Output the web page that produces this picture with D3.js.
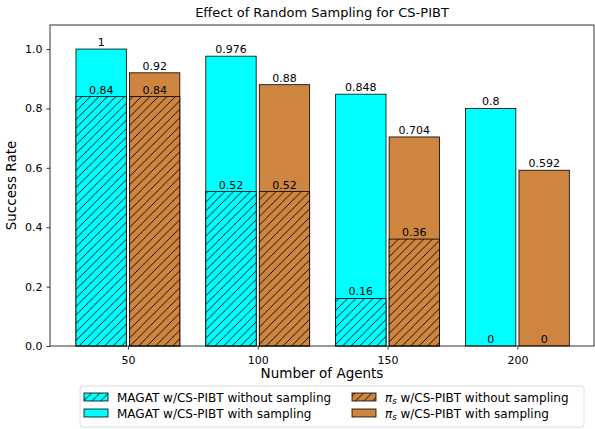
<!DOCTYPE html>
<html>
<head>
<meta charset="utf-8">
<script src="https://cdn.jsdelivr.net/npm/d3@7"></script>
<style>
  body { margin: 0; background: #fff; }
  text { font-family: "DejaVu Sans", sans-serif; fill: #000; }
</style>
</head>
<body>
<svg id="chart" width="595" height="429"></svg>
<script>
// data
const agents = [50, 100, 150, 200];
const magatWith = [1, 0.976, 0.848, 0.8];
const magatWithout = [0.84, 0.52, 0.16, 0];
const piWith = [0.92, 0.88, 0.704, 0.592];
const piWithout = [0.84, 0.52, 0.36, 0];
const yTicks = [0, 0.2, 0.4, 0.6, 0.8, 1.0];

const svg = d3.select("#chart");
const margin = {left: 50, right: 1, top: 25, bottom: 83};
const width = 595, height = 429;

const x = d3.scaleLinear().domain([20, 229.5]).range([margin.left, width - margin.right]);
const y = d3.scaleLinear().domain([0, 1.081]).range([height - margin.bottom, margin.top]);

const cyan = "#00ffff";
const peru = "#cd853f";

// hatch patterns
const defs = svg.append("defs");
function hatch(id, color) {
    const p = defs.append("pattern")
        .attr("id", id)
        .attr("patternUnits", "userSpaceOnUse")
        .attr("width", 8.5).attr("height", 8.5);
    p.append("rect").attr("width", 8.5).attr("height", 8.5).attr("fill", color);
    p.append("path")
        .attr("d", "M-2,10.5 L10.5,-2 M-2,2 L2,-2 M6.5,10.5 L10.5,6.5")
        .attr("stroke", "#000").attr("stroke-width", 0.9);
}
hatch("hatchCyan", cyan);
hatch("hatchPeru", peru);

// bar series: offsets are in agent units around each group centre
const series = [
    {vals: magatWith, x0: -20, x1: -0.6, fill: cyan},
    {vals: piWith, x0: 0.6, x1: 20, fill: peru},
    {vals: magatWithout, x0: -20, x1: -0.6, fill: "url(#hatchCyan)"},
    {vals: piWithout, x0: 0.6, x1: 20, fill: "url(#hatchPeru)"}
];

const plot = svg.append("g");

series.forEach(s => {
    const rows = agents.map((a, i) => ({a: a, v: s.vals[i]}));

    plot.selectAll(null)
        .data(rows)
        .enter()
        .append("rect")
        .attr("x", d => x(d.a + s.x0))
        .attr("width", d => x(d.a + s.x1) - x(d.a + s.x0))
        .attr("y", d => y(d.v))
        .attr("height", d => y(0) - y(d.v))
        .attr("fill", s.fill)
        .attr("stroke", "#000")
        .attr("stroke-width", d => d.v === 0 ? 0 : 0.8);

    plot.selectAll(null)
        .data(rows)
        .enter()
        .append("text")
        .attr("x", d => x(d.a + (s.x0 + s.x1) / 2))
        .attr("y", d => y(d.v) - 3)
        .attr("text-anchor", "middle")
        .attr("font-size", 11)
        .text(d => d3.format("")(d.v));
});

// axes
const xAxis = svg.append("g")
    .attr("transform", `translate(0,${y(0)})`)
    .call(d3.axisBottom(x).tickValues(agents).tickSize(3.5).tickSizeOuter(0));
const yAxis = svg.append("g")
    .attr("transform", `translate(${margin.left},0)`)
    .call(d3.axisLeft(y).tickValues(yTicks).tickFormat(d3.format(".1f")).tickSize(3.5).tickSizeOuter(0));

[xAxis, yAxis].forEach(g => {
    g.selectAll("text").attr("font-size", 11).style("font-family", "DejaVu Sans, sans-serif");
    g.select(".domain").remove();
    g.selectAll("line").attr("stroke-width", 0.8);
});
xAxis.selectAll("text").attr("dy", "1.05em");
yAxis.selectAll("text").attr("dx", "-0.1em");

// frame
svg.append("rect")
    .attr("x", margin.left).attr("y", margin.top)
    .attr("width", width - margin.right - margin.left)
    .attr("height", y(0) - margin.top)
    .attr("fill", "none").attr("stroke", "#000").attr("stroke-width", 0.8);

// titles
svg.append("text")
    .attr("x", (margin.left + width - margin.right) / 2).attr("y", 17)
    .attr("text-anchor", "middle").attr("font-size", 13)
    .text("Effect of Random Sampling for CS-PIBT");
svg.append("text")
    .attr("x", (margin.left + width - margin.right) / 2).attr("y", 378)
    .attr("text-anchor", "middle").attr("font-size", 13.5)
    .text("Number of Agents");
svg.append("text")
    .attr("transform", `translate(16,${(margin.top + y(0)) / 2}) rotate(-90)`)
    .attr("text-anchor", "middle").attr("font-size", 13.5)
    .text("Success Rate");

// legend
const legend = svg.append("g");
legend.append("rect")
    .attr("x", 80).attr("y", 386).attr("width", 504).attr("height", 41)
    .attr("rx", 3).attr("fill", "#fff").attr("stroke", "#d0d0d0").attr("stroke-width", 0.8);

const legendItems = [
    {fill: "url(#hatchCyan)", label: "MAGAT w/CS-PIBT without sampling", pi: false, col: 0, row: 0},
    {fill: cyan, label: "MAGAT w/CS-PIBT with sampling", pi: false, col: 0, row: 1},
    {fill: "url(#hatchPeru)", label: " w/CS-PIBT without sampling", pi: true, col: 1, row: 0},
    {fill: peru, label: " w/CS-PIBT with sampling", pi: true, col: 1, row: 1}
];
const colX = [84, 352];
const rowY = [397, 413];

legendItems.forEach(d => {
    legend.append("rect")
        .attr("x", colX[d.col]).attr("y", rowY[d.row] - 4)
        .attr("width", 24).attr("height", 8)
        .attr("fill", d.fill).attr("stroke", "#000").attr("stroke-width", 0.8);
    const t = legend.append("text")
        .attr("x", colX[d.col] + 33).attr("y", rowY[d.row] + 4.5)
        .attr("font-size", 12);
    if (d.pi) {
        t.append("tspan").attr("font-style", "italic").text("π");
        t.append("tspan").attr("font-style", "italic").attr("font-size", 8.5).attr("dy", 2).text("s");
        t.append("tspan").attr("dy", -2).text(d.label);
    } else {
        t.text(d.label);
    }
});
</script>
</body>
</html>
